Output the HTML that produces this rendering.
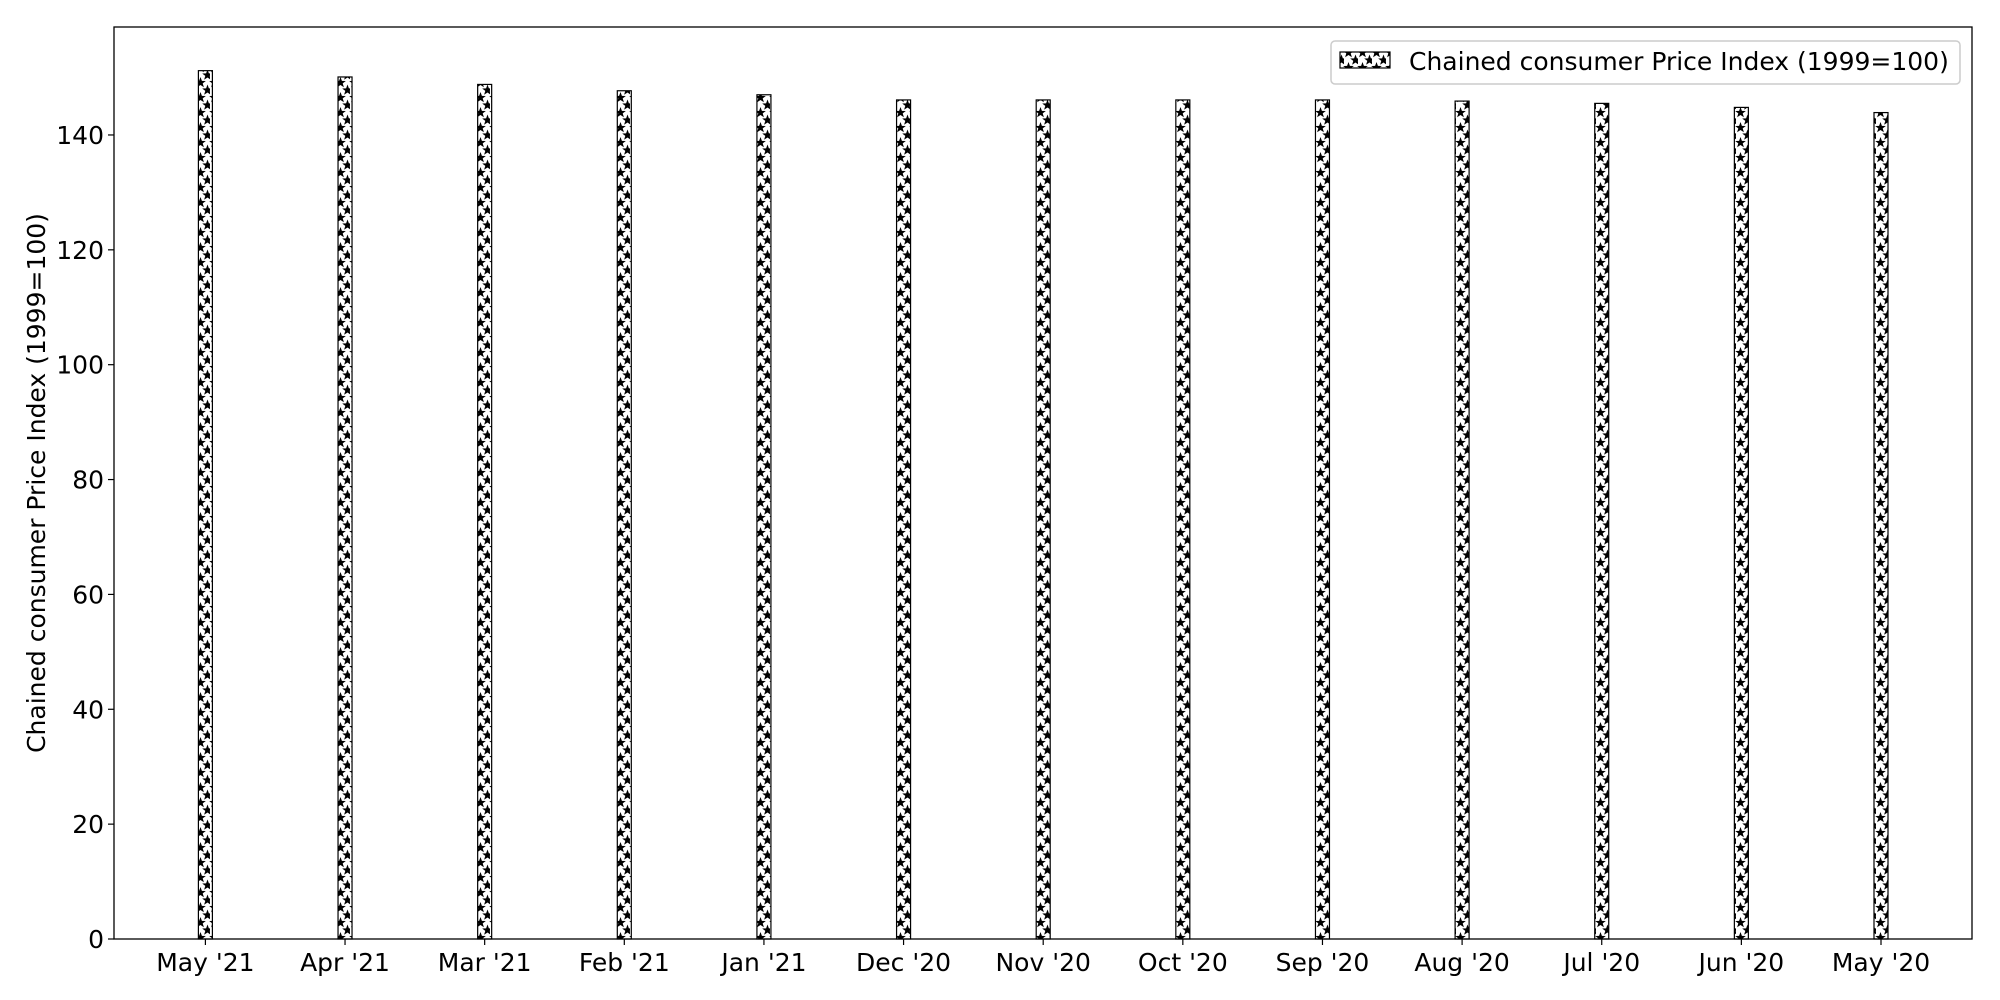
<!DOCTYPE html>
<html><head><meta charset="utf-8">
<style>
html,body{margin:0;padding:0;background:#fff;}
svg{display:block;font-family:"DejaVu Sans","Liberation Sans",sans-serif;}
</style></head>
<body>
<svg id="chart" width="2000" height="1000" viewBox="0 0 2000 1000">
<defs>
<pattern id="stars" patternUnits="userSpaceOnUse" width="14" height="15" x="0" y="0">
<rect width="14" height="15" fill="#fff"/>
<path d="M4.5,0 L5.9,3.9 L9.8,4 L6.7,6.4 L7.9,10.3 L4.5,8 L1.1,10.3 L2.3,6.4 L-0.8,4 L3.1,3.9 Z" transform="translate(0,2)" fill="#000"/>
<path d="M4.5,0 L5.9,3.9 L9.8,4 L6.7,6.4 L7.9,10.3 L4.5,8 L1.1,10.3 L2.3,6.4 L-0.8,4 L3.1,3.9 Z" transform="translate(7,9.5)" fill="#000"/>
<path d="M4.5,0 L5.9,3.9 L9.8,4 L6.7,6.4 L7.9,10.3 L4.5,8 L1.1,10.3 L2.3,6.4 L-0.8,4 L3.1,3.9 Z" transform="translate(7,-5.5)" fill="#000"/>
<path d="M4.5,0 L5.9,3.9 L9.8,4 L6.7,6.4 L7.9,10.3 L4.5,8 L1.1,10.3 L2.3,6.4 L-0.8,4 L3.1,3.9 Z" transform="translate(14,2)" fill="#000"/>
</pattern>
</defs>
<g id="plot"></g>
<text transform="translate(45,483) rotate(-90)" text-anchor="middle" font-size="25">Chained consumer Price Index (1999=100)</text>
<g>
<rect x="1331" y="41" width="629" height="43" rx="4" fill="#fff" stroke="#ccc" stroke-width="1.5"/>
<rect x="1340" y="52" width="50" height="16" fill="url(#stars)" stroke="#000" stroke-width="1.2"/>
<text x="1409" y="70" font-size="25">Chained consumer Price Index (1999=100)</text>
</g>
</svg>
<script>
const categories = ["May '21","Apr '21","Mar '21","Feb '21","Jan '21","Dec '20","Nov '20","Oct '20","Sep '20","Aug '20","Jul '20","Jun '20","May '20"];
const values = [151.2,150.1,148.8,147.7,147.0,146.1,146.1,146.1,146.1,145.9,145.5,144.8,143.9];
const yTicks = [0,20,40,60,80,100,120,140];

const L=114, R=1972, T=27, B=939;
const yMax=158.8;
const y = v => B - v/yMax*(B-T);
const x0=205.4, step=(1881-205.4)/12;
const x = i => x0 + i*step;
const barW = 14;
const NS="http://www.w3.org/2000/svg";
const g=document.getElementById('plot');
function mk(tag, attrs){const e=document.createElementNS(NS,tag);for(const k in attrs)e.setAttribute(k,attrs[k]);g.appendChild(e);return e;}

values.forEach((v,i)=>{
  const r=mk('rect',{x:x(i)-barW/2,y:y(v),width:barW,height:B-y(v),fill:'url(#stars)',stroke:'#000','stroke-width':1.2});
  
  
});
const fr=mk('rect',{x:L,y:T,width:R-L,height:B-T,fill:'none',stroke:'#000','stroke-width':1.3});


yTicks.forEach(t=>{
  const ln=mk('line',{x1:L-6,x2:L,y1:y(t),y2:y(t),stroke:'#000','stroke-width':1.2});
  
  
  const tx=mk('text',{x:L-10,y:y(t)+9,'text-anchor':'end','font-size':25});
  tx.textContent=t;
  
  
});
categories.forEach((c,i)=>{
  const ln=mk('line',{x1:x(i),x2:x(i),y1:B,y2:B+6,stroke:'#000','stroke-width':1.2});
  
  
  const tx=mk('text',{x:x(i),y:B+32,'text-anchor':'middle','font-size':25});
  tx.textContent=c;
  
  
});
</script>
</body></html>
